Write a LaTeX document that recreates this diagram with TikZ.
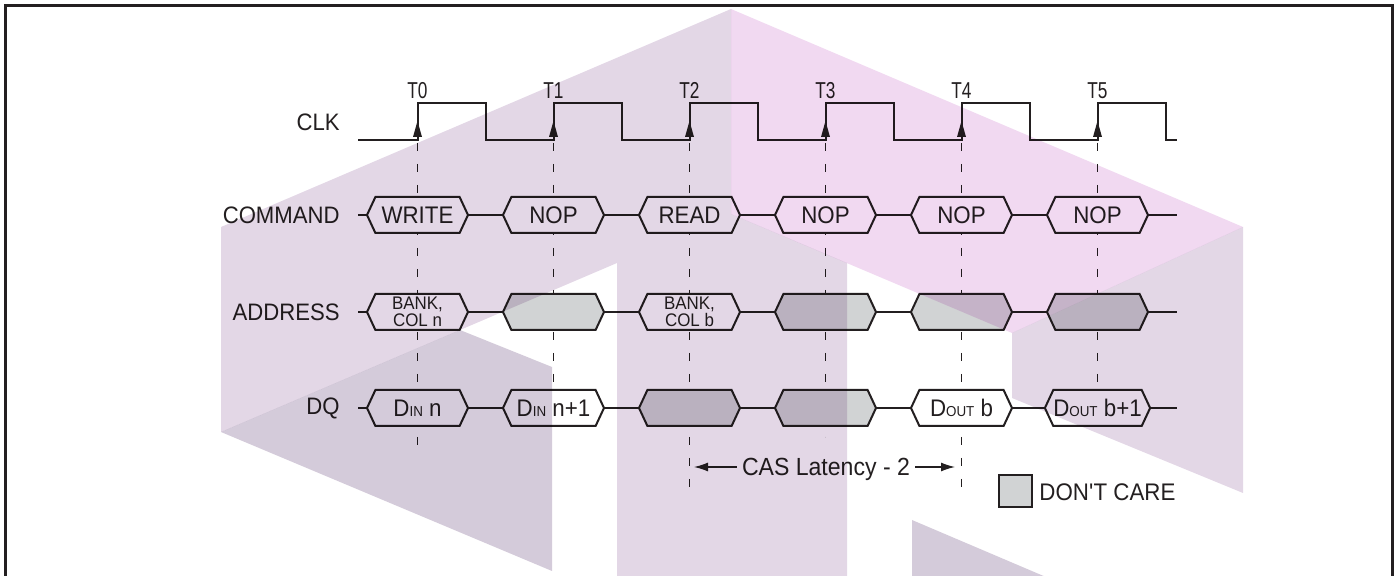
\documentclass[tikz,border=0pt]{standalone}
\usepackage{fontspec}
\setmainfont{Liberation Sans}[FakeStretch=0.93]
\newfontfamily\tfam{Liberation Sans}[FakeStretch=0.75]
\usetikzlibrary{shapes.symbols,arrows.meta}
\definecolor{ink}{HTML}{231F20}
\definecolor{dcgray}{HTML}{D1D3D4}
\definecolor{wmA}{HTML}{E3D7E6}
\definecolor{wmB}{HTML}{F1D9F1}
\definecolor{wmC}{HTML}{D4CBDA}
\newcommand\smc[1]{{\fontsize{7.2}{8}\selectfont #1}}
\newcommand\apos{\XeTeXglyph\XeTeXglyphindex "quotesingle"\relax}
\begin{document}
\begin{tikzpicture}[x=0.5pt,y=-0.5pt,
  wave/.style={draw=ink, line width=1pt, line join=miter},
  guide/.style={draw=ink, line width=0.75pt, dash pattern=on 4pt off 6.5pt},
  hexbox/.style={signal, signal to=west and east, signal pointer angle=130,
    draw=ink, fill=white, line width=1pt, minimum width=50.5pt, minimum height=18pt,
    inner sep=0pt, outer sep=0pt, text=ink, font=\fontsize{12}{13}\selectfont},
  dontcare/.style={hexbox, fill=dcgray},
  bank/.style={font=\fontsize{9.1}{8.6}\selectfont, align=center},
  rowlabel/.style={anchor=east, inner sep=0pt, text=ink, font=\fontsize{11.9}{14}\selectfont},
  ticklabel/.style={inner sep=0pt, text=ink, font=\tfam\fontsize{11.5}{12}\selectfont},
  casarrow/.style={draw=ink, line width=0.65pt, -{Latex[length=7pt,width=4.5pt]}}]
\useasboundingbox (0,0) rectangle (1397,576);
\clip (0,0) rectangle (1397,576);

% row labels
\node[rowlabel] (lclk) at (340,122) {CLK};
\node[rowlabel] (lcmd) at (340,215) {COMMAND};
\node[rowlabel] (ladr) at (340,312) {ADDRESS};
\node[rowlabel] (ldq)  at (340,408) {DQ};

% clock
\draw[wave] (358,140) foreach \k in {0,...,5}{ -- ({417.5+136*\k},140) -- ({417.5+136*\k},103)
  -- ({485.5+136*\k},103) -- ({485.5+136*\k},140)} -- (1177,140);
\foreach \k in {0,...,5}{
  \fill[ink] ({417.5+136*\k},121) -- ({413+136*\k},137) -- ({422+136*\k},137) -- cycle;
  \node[ticklabel] (t\k) at ({417.5+136*\k},90.5) {T\k};
}

% dashed guides
\foreach \k/\e in {0/457,1/408,2/492,3/437,4/488,5/435}{
  \coordinate (g\k top) at ({417.5+136*\k},143);
  \coordinate (g\k bot) at ({417.5+136*\k},\e);
  \draw[guide] (g\k top) -- (g\k bot);
}

% COMMAND
\node[hexbox] (c0) at (417.5,215) {WRITE};
\node[hexbox] (c1) at (553.5,215) {NOP};
\node[hexbox] (c2) at (689.5,215) {READ};
\node[hexbox] (c3) at (825.5,215) {NOP};
\node[hexbox] (c4) at (961.5,215) {NOP};
\node[hexbox] (c5) at (1097.5,215) {NOP};
\coordinate (cS) at (358,215); \coordinate (cE) at (1177,215);
\draw[wave] (cS) -- (c0.west) (c0.east) -- (c1.west) (c1.east) -- (c2.west)
  (c2.east) -- (c3.west) (c3.east) -- (c4.west) (c4.east) -- (c5.west) (c5.east) -- (cE);

% ADDRESS
\node[hexbox,bank] (a0) at (417.5,312) {BANK,\\COL n};
\node[dontcare] (a1) at (553.5,312) {};
\node[hexbox,bank] (a2) at (689.5,312) {BANK,\\COL b};
\node[dontcare] (a3) at (825.5,312) {};
\node[dontcare] (a4) at (961.5,312) {};
\node[dontcare] (a5) at (1097.5,312) {};
\coordinate (aS) at (358,312); \coordinate (aE) at (1177,312);
\draw[wave] (aS) -- (a0.west) (a0.east) -- (a1.west) (a1.east) -- (a2.west)
  (a2.east) -- (a3.west) (a3.east) -- (a4.west) (a4.east) -- (a5.west) (a5.east) -- (aE);

% DQ
\node[hexbox] (d0) at (417.5,408) {D\smc{IN} n};
\node[hexbox] (d1) at (553.5,408) {D\smc{IN} n+1};
\node[dontcare] (d2) at (689.5,408) {};
\node[dontcare] (d3) at (825.5,408) {};
\node[hexbox] (d4) at (961.5,408) {D\smc{OUT} b};
\node[hexbox] (d5) at (1097.5,408) {D\smc{OUT} b+1};
\coordinate (dS) at (358,408); \coordinate (dE) at (1177,408);
\draw[wave] (dS) -- (d0.west) (d0.east) -- (d1.west) (d1.east) -- (d2.west)
  (d2.east) -- (d3.west) (d3.east) -- (d4.west) (d4.east) -- (d5.west) (d5.east) -- (dE);

% CAS latency
\node[inner xsep=2.5pt, inner ysep=0pt, text=ink, font=\fontsize{12.4}{14}\selectfont, anchor=base] (cas) at (826,476) {CAS Latency - 2};
\coordinate (casL) at (694,467); \coordinate (casR) at (955,467);
\draw[casarrow] (cas.west |- casL) -- (casL);
\draw[casarrow] (cas.east |- casR) -- (casR);

% legend
\node[draw=ink, fill=dcgray, line width=1.2pt, minimum width=16.5pt, minimum height=16pt, inner sep=0pt] (dcbox) at (1015.5,491) {};
\node[anchor=west, inner sep=0pt, text=ink, font=\fontsize{12}{14}\selectfont] (dctext) at (1039,492) {DON\apos T CARE};

% watermark
\begin{scope}[blend mode=multiply]
\fill[wmA] (221,227) -- (731,9) -- (731,214) -- (847,263) -- (847,600) -- (617,600) -- (617,263) -- (221,432) -- cycle;
\fill[wmB] (731,9) -- (1243,227) -- (1012,333) -- (731,214) -- cycle;
\fill[wmA] (1012,333) -- (1243,227) -- (1243,493) -- (1012,398) -- cycle;
\fill[wmC] (221,432) -- (460,330) -- (552,367) -- (552,571) -- cycle;
\fill[wmC] (912,520) -- (1100,600) -- (912,600) -- cycle;
\end{scope}

% frame
\draw[ink, line width=1.4pt] (5.5,5.5) rectangle (1392.5,620);
\end{tikzpicture}
\end{document}
